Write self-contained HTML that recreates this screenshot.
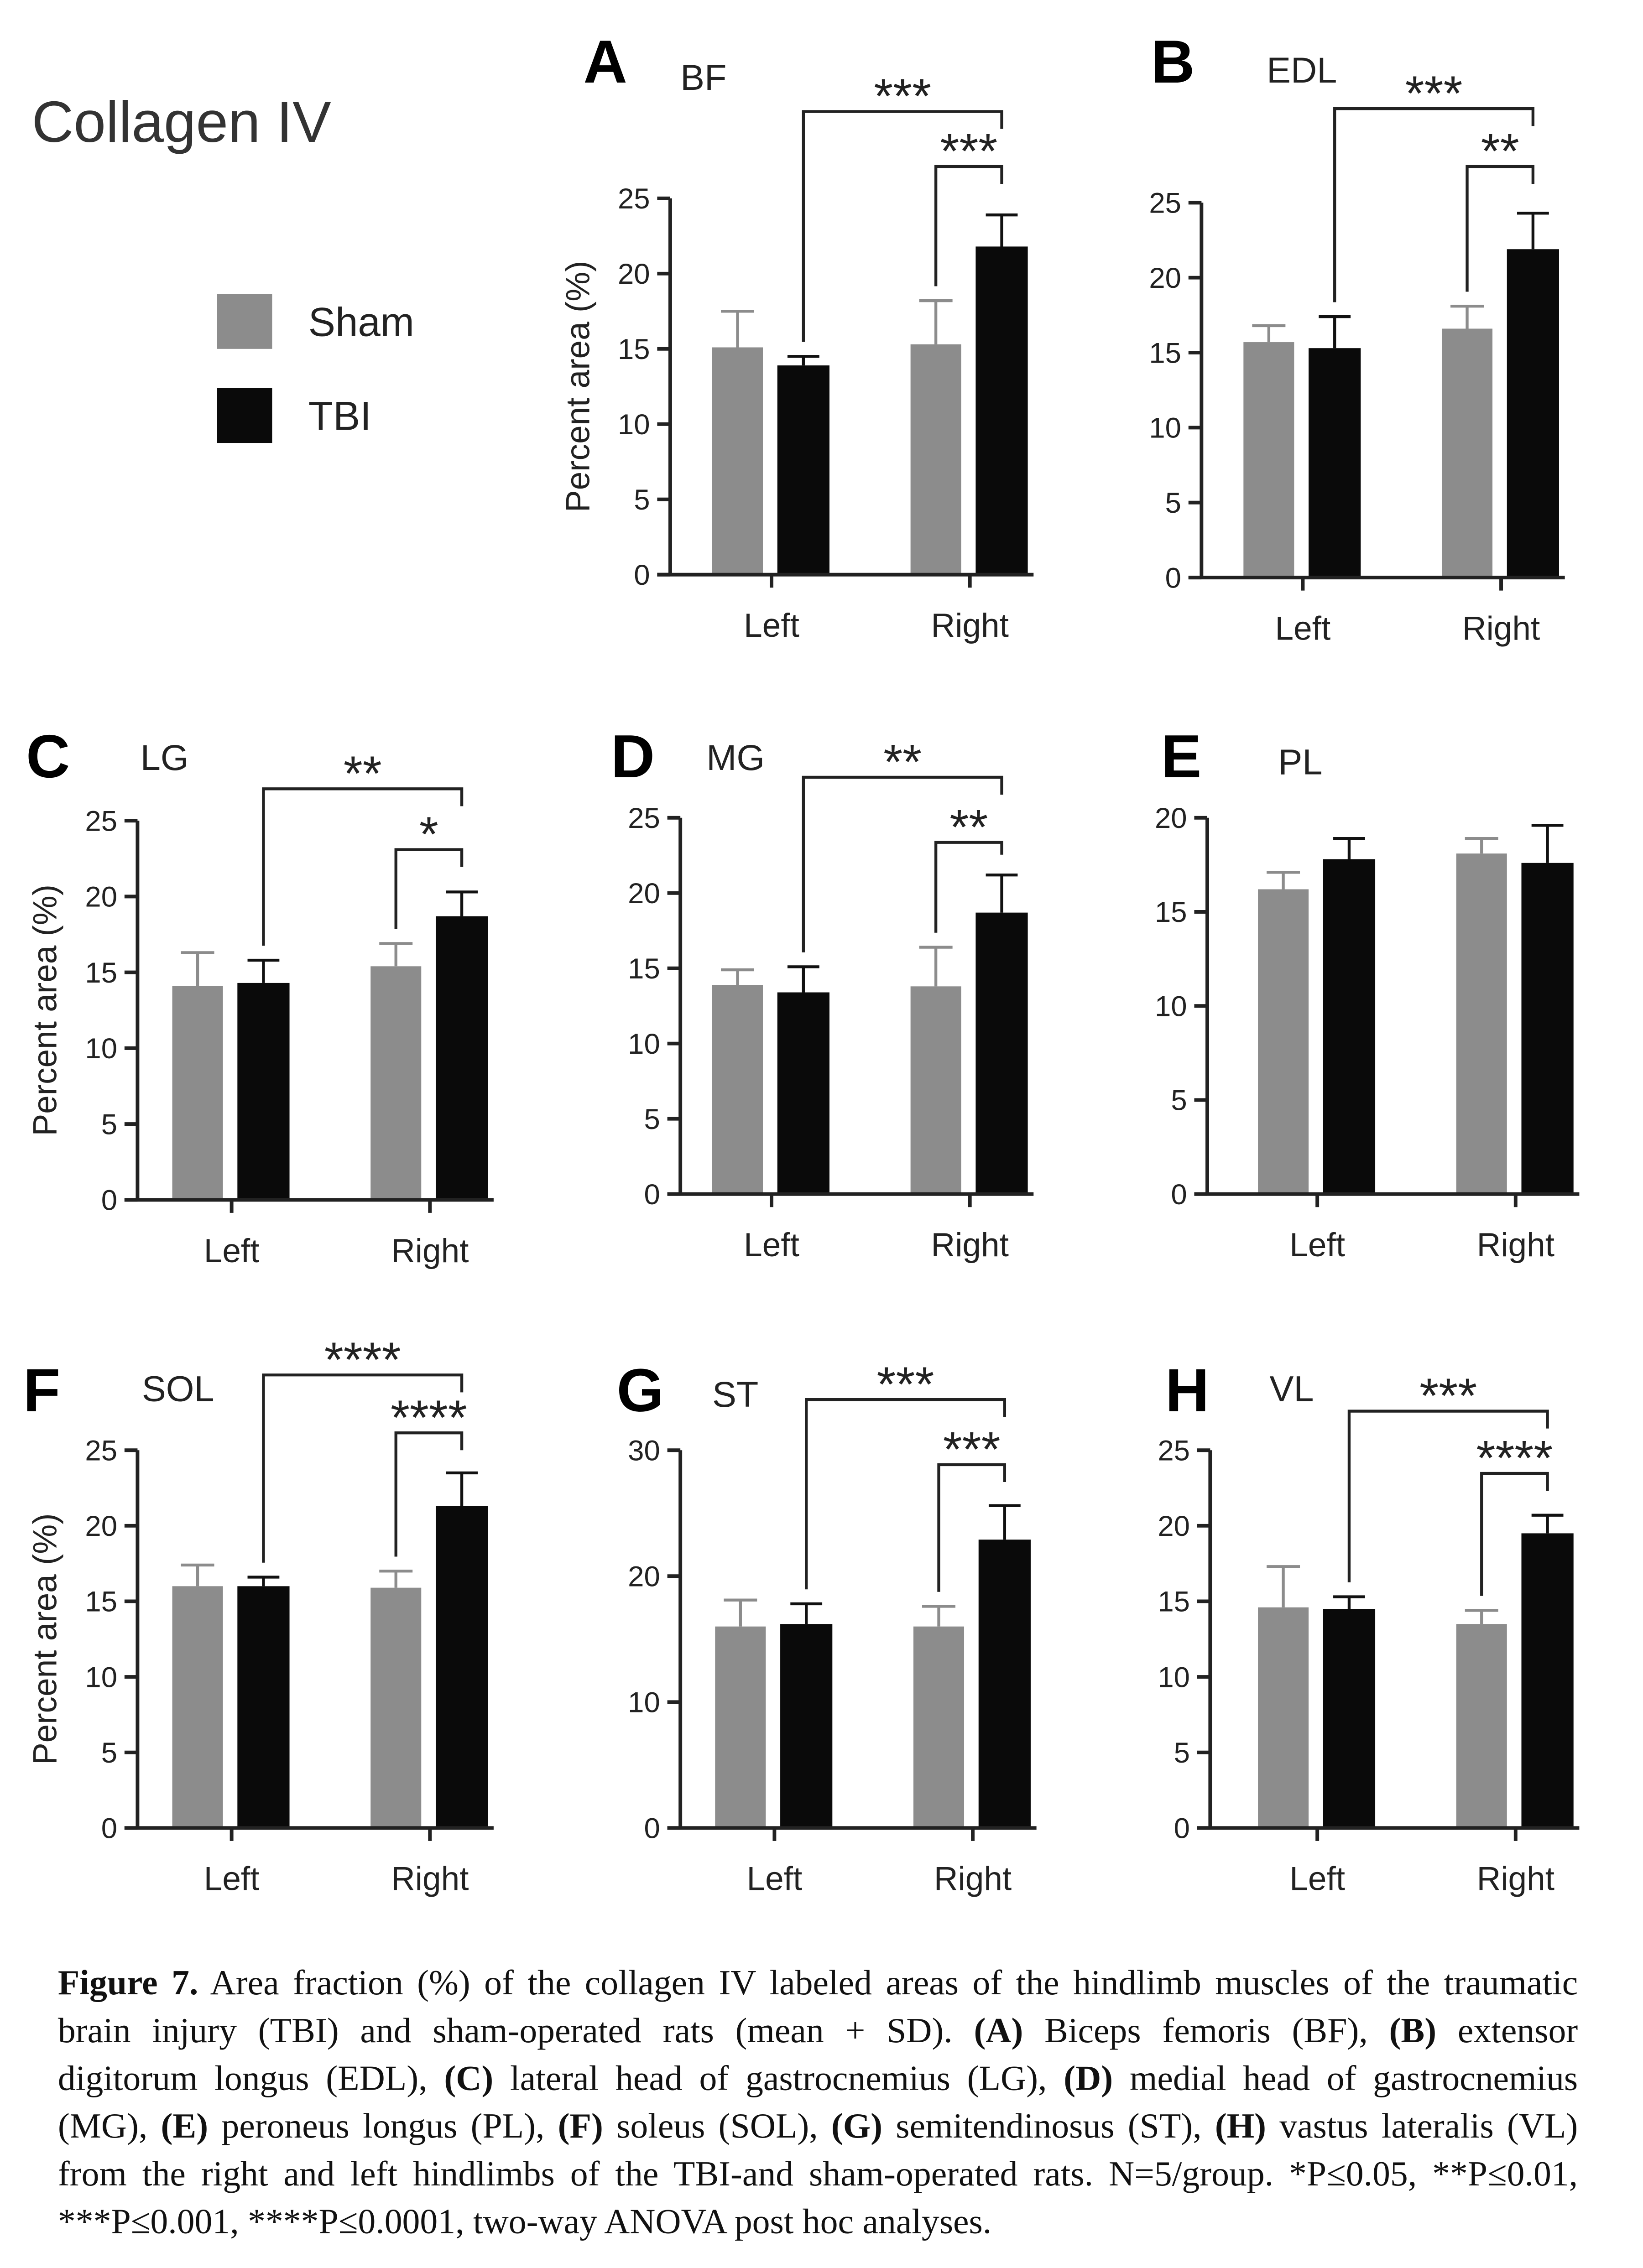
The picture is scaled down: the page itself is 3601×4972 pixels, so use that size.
<!DOCTYPE html>
<html><head><meta charset="utf-8">
<style>
html,body{margin:0;padding:0;background:#fff;}
svg{display:block;}
</style></head>
<body>
<svg id="fig" xmlns="http://www.w3.org/2000/svg" width="3601" height="4972" viewBox="0 0 1135 1567" style="font-family:'Liberation Sans',Arial,sans-serif">
<rect width="1135" height="1567" fill="#fff"/>
<text x="22" y="98" font-size="40" fill="#333">Collagen IV</text>
<rect x="150" y="203" width="38" height="38" fill="#8c8c8c"/>
<text x="213" y="232" font-size="28" fill="#222">Sham</text>
<rect x="150" y="268" width="38" height="38" fill="#0a0a0a"/>
<text x="213" y="297" font-size="28" fill="#222">TBI</text>
<g id="charts"></g>
<g id="caption" font-family="'Liberation Serif',serif" font-size="24.5" fill="#111">
<text x="40" y="1378"><tspan font-weight="bold">Figure 7.</tspan> Area fraction (%) of the collagen IV labeled areas of the hindlimb muscles of the traumatic</text>
<text x="40" y="1411">brain injury (TBI) and sham-operated rats (mean + SD). <tspan font-weight="bold">(A)</tspan> Biceps femoris (BF), <tspan font-weight="bold">(B)</tspan> extensor</text>
<text x="40" y="1444">digitorum longus (EDL), <tspan font-weight="bold">(C)</tspan> lateral head of gastrocnemius (LG), <tspan font-weight="bold">(D)</tspan> medial head of gastrocnemius</text>
<text x="40" y="1477">(MG), <tspan font-weight="bold">(E)</tspan> peroneus longus (PL), <tspan font-weight="bold">(F)</tspan> soleus (SOL), <tspan font-weight="bold">(G)</tspan> semitendinosus (ST), <tspan font-weight="bold">(H)</tspan> vastus lateralis (VL)</text>
<text x="40" y="1510">from the right and left hindlimbs of the TBI-and sham-operated rats. N=5/group. *P≤0.05, **P≤0.01,</text>
<text x="40" y="1543" data-last="1">***P≤0.001, ****P≤0.0001, two-way ANOVA post hoc analyses.</text>
</g>
</svg>
<script>
const categories = ["Left","Right"];
const panelLetters = ["A","B","C","D","E","F","G","H"];
const muscles = ["BF","EDL","LG","MG","PL","SOL","ST","VL"];
const shamMean = [[15.1,15.3],[15.7,16.6],[14.1,15.4],[13.9,13.8],[16.2,18.1],[16.0,15.9],[16.0,16.0],[14.6,13.5]];
const shamSD   = [[2.4,2.9],[1.1,1.5],[2.2,1.5],[1.0,2.6],[0.9,0.8],[1.4,1.1],[2.1,1.6],[2.7,0.9]];
const tbiMean  = [[13.9,21.8],[15.3,21.9],[14.3,18.7],[13.4,18.7],[17.8,17.6],[16.0,21.3],[16.2,22.9],[14.5,19.5]];
const tbiSD    = [[0.6,2.1],[2.1,2.4],[1.5,1.6],[1.7,2.5],[1.1,2.0],[0.6,2.2],[1.6,2.7],[0.8,1.2]];
const yMax = [25,25,25,25,20,25,30,25];
const yStep = [5,5,5,5,5,5,10,5];
const sigOuter = ["***","***","**","**","","****","***","***"];
const sigInner = ["***","**","*","**","","****","***","****"];

// layout (not data)
const layout = [
 {ax:463,off:70,y0:397,yt:137,lx:403,ly:57,mx:470,my:62,ylab:true, ob:77, ib:115},
 {ax:830,off:70,y0:399,yt:140,lx:795,ly:57,mx:875,my:57,ylab:false,ob:75, ib:115},
 {ax:95, off:65,y0:829,yt:567,lx:18, ly:537,mx:97,my:532,ylab:true, ob:545,ib:587},
 {ax:470,off:63,y0:825,yt:565,lx:422,ly:537,mx:488,my:532,ylab:false,ob:537,ib:582},
 {ax:834,off:76,y0:825,yt:565,lx:802,ly:537,mx:883,my:535,ylab:false,ob:0,ib:0},
 {ax:95, off:65,y0:1263,yt:1002,lx:16,ly:975,mx:98,my:968,ylab:true, ob:950,ib:990},
 {ax:470,off:65,y0:1263,yt:1002,lx:426,ly:975,mx:492,my:972,ylab:false,ob:967,ib:1012},
 {ax:836,off:74,y0:1263,yt:1002,lx:805,ly:975,mx:877,my:968,ylab:false,ob:975,ib:1018}
];
const NS="http://www.w3.org/2000/svg";
const root=document.getElementById('charts');
function mk(tag,attrs,parent){const e=document.createElementNS(NS,tag);for(const k in attrs)e.setAttribute(k,attrs[k]);parent.appendChild(e);return e;}

for(let p=0;p<8;p++){
  const L=layout[p];
  const g=mk('g',{},root);
  
  
  const y=v=>L.y0-(v/yMax[p])*(L.y0-L.yt);
  const cx=i=>L.ax+L.off+i*137;
  const xEnd=cx(1)+44;
  const pl=mk('text',{x:L.lx,y:L.ly,'font-size':42,'font-weight':'bold',fill:'#000'},g);
  pl.textContent=panelLetters[p];
  
  
  const mt=mk('text',{x:L.mx,y:L.my,'font-size':25,fill:'#222'},g);
  mt.textContent=muscles[p];
  
  
  for(let i=0;i<2;i++){
    const c=cx(i);
    const sb=mk('rect',{x:c-41,y:y(shamMean[p][i]),width:35,height:L.y0-y(shamMean[p][i]),fill:'#8c8c8c'},g);
    
    
    const st=y(shamMean[p][i]+shamSD[p][i]);
    mk('line',{x1:c-23.5,x2:c-23.5,y1:y(shamMean[p][i]),y2:st,stroke:'#8c8c8c','stroke-width':2},g);
    mk('line',{x1:c-35,x2:c-12,y1:st,y2:st,stroke:'#8c8c8c','stroke-width':2},g);
    const tb=mk('rect',{x:c+4,y:y(tbiMean[p][i]),width:36,height:L.y0-y(tbiMean[p][i]),fill:'#0a0a0a'},g);
    
    
    const tt=y(tbiMean[p][i]+tbiSD[p][i]);
    mk('line',{x1:c+22,x2:c+22,y1:y(tbiMean[p][i]),y2:tt,stroke:'#111','stroke-width':2},g);
    mk('line',{x1:c+11,x2:c+33,y1:tt,y2:tt,stroke:'#111','stroke-width':2},g);
    mk('line',{x1:c,x2:c,y1:L.y0,y2:L.y0+9,stroke:'#222','stroke-width':2.5},g);
    const xl=mk('text',{x:c,y:L.y0+43,'font-size':23,'text-anchor':'middle',fill:'#222'},g);
    xl.textContent=categories[i];
    
    
  }
  mk('line',{x1:L.ax,x2:L.ax,y1:L.yt,y2:L.y0+1,stroke:'#222','stroke-width':2.5},g);
  mk('line',{x1:L.ax-9,x2:xEnd,y1:L.y0,y2:L.y0,stroke:'#222','stroke-width':2.5},g);
  for(let v=0;v<=yMax[p];v+=yStep[p]){
    mk('line',{x1:L.ax-9,x2:L.ax,y1:y(v),y2:y(v),stroke:'#222','stroke-width':2.5},g);
    const t=mk('text',{x:L.ax-14,y:y(v)+7,'font-size':20,'text-anchor':'end',fill:'#222'},g);
    t.textContent=v;
    
    
  }
  if(L.ylab){
    const yc=(L.y0+L.yt)/2, xx=L.ax-56;
    const yl=mk('text',{x:xx,y:yc,'font-size':23,'text-anchor':'middle',fill:'#222',transform:`rotate(-90 ${xx} ${yc})`},g);
    yl.textContent='Percent area (%)';
    
    
  }
  if(sigOuter[p]){
    const x1=cx(0)+22, x2=cx(1)+22;
    const ys=y(tbiMean[p][0]+tbiSD[p][0])-10;
    const ye=y(tbiMean[p][1]+tbiSD[p][1])-14;
    const b=mk('path',{d:`M${x1} ${ys} V${L.ob} H${x2} V${L.ob+12}`,fill:'none',stroke:'#222','stroke-width':2},g);
    
    
    const s=mk('text',{x:(x1+x2)/2,y:L.ob+1,'font-size':34,'text-anchor':'middle',fill:'#222'},g);
    s.textContent=sigOuter[p];
    
    
    const x3=cx(1)-23.5;
    const ys2=y(shamMean[p][1]+shamSD[p][1])-10;
    const b2=mk('path',{d:`M${x3} ${ys2} V${L.ib} H${x2} V${Math.min(L.ib+12,ye)}`,fill:'none',stroke:'#222','stroke-width':2},g);
    
    
    const s2=mk('text',{x:(x3+x2)/2,y:L.ib+1,'font-size':34,'text-anchor':'middle',fill:'#222'},g);
    s2.textContent=sigInner[p];
    
    
  }
}
// justify caption lines via word-spacing
document.querySelectorAll('#caption text').forEach(t=>{
  if(t.getAttribute('data-last'))return;
  const w=t.getComputedTextLength();
  const spaces=(t.textContent.match(/ /g)||[]).length;
  if(spaces>0&&w<1050)t.setAttribute('word-spacing',((1050-w)/spaces).toFixed(2));
});
</script>
</body></html>
